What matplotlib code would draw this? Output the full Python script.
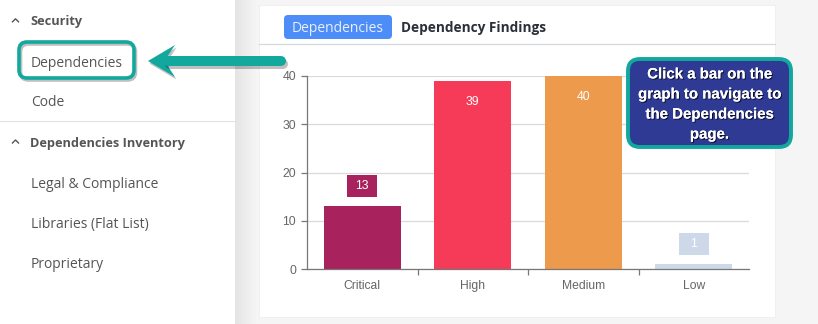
import matplotlib.pyplot as plt
import matplotlib.patches as patches
import matplotlib.patheffects as pe
import numpy as np

# datos de la grafica
categorias = ['Critical', 'High', 'Medium', 'Low']
valores = [13, 39, 40, 1]
colores = ['#A8235E', '#F53B57', '#EE9A4D', '#CDD9E8']
yticks = [0, 10, 20, 30, 40]

# menu lateral
menu_titulos = ['Security', 'Dependencies Inventory']
menu_items = ['Dependencies', 'Code', 'Legal & Compliance', 'Libraries (Flat List)', 'Proprietary']
aviso = 'Click a bar on the\ngraph to navigate to\nthe Dependencies\npage.'

W, H = 818, 324
teal = '#12A89D'
ui_font = 'Open Sans'
fig = plt.figure(figsize=(W / 100, H / 100), dpi=100, facecolor='#F5F5F6')

# ____ fondo en coordenadas de pixel
bg = fig.add_axes([0, 0, 1, 1], zorder=0)
bg.axis('off')
bg.add_patch(patches.Rectangle((0, 0), 235, H, facecolor='white', edgecolor='none'))
grad = np.linspace(0, 1, 50).reshape(1, -1)
bg.imshow(grad, extent=(235, 256, H, 0), cmap=plt.matplotlib.colors.LinearSegmentedColormap.from_list(
    'sombra', ['#E4E4E5', '#F5F5F6']), aspect='auto', zorder=1)
bg.set_xlim(0, W)
bg.set_ylim(H, 0)
bg.plot([0, 235], [121, 121], color='#E2E2E2', lw=0.8)
# tarjeta
bg.add_patch(patches.Rectangle((259, 5), 516, 312, facecolor='white', edgecolor='#ECECEC', lw=0.5, zorder=2))
bg.plot([259, 775], [44, 44], color='#D5D8DC', lw=0.9, zorder=3)
bg.add_patch(patches.FancyBboxPatch((286, 17), 104, 20, boxstyle='round,pad=2,rounding_size=4',
                                    facecolor='#4D8DF7', edgecolor='none', zorder=3))
bg.text(338, 32, 'Dependencies', ha='center', va='baseline', color='#E8F0FF',
        fontsize=10, family=ui_font, zorder=4)
bg.text(401, 32, 'Dependency Findings', ha='left', va='baseline', color='#2B2F3A',
        fontsize=9.8, family=ui_font, fontweight='bold', zorder=4)

# menu
for yb, t in zip([25.3, 146.5], menu_titulos):
    bg.text(30, yb, t, ha='left', va='baseline', color='#555555', fontsize=9.2,
            family=ui_font, fontweight='bold')
    yc = yb - 5
    bg.plot([12.5, 15.5, 18.5], [yc + 1.5, yc - 1.5, yc + 1.5], color='#555555', lw=1)
for yb, t in zip([67, 106, 188, 228, 268], menu_items):
    bg.text(31, yb, t, ha='left', va='baseline', color='#555555', fontsize=10, family=ui_font)

# ____ grafica de barras
ax = fig.add_axes([307 / W, 1 - 269.3 / H, (749 - 307) / W, (269.3 - 76) / H], zorder=1)
ax.set_facecolor('none')
x = np.arange(len(categorias))
ax.bar(x, valores, width=0.7, color=colores, zorder=2)
ax.set_xlim(-0.5, len(categorias) - 0.5)
ax.set_ylim(0, 40)
ax.set_yticks(yticks)
ax.set_xticks(x)
ax.set_xticklabels(categorias)
ax.set_xticks(x[:-1] + 0.5, minor=True)
ax.tick_params(axis='x', which='major', length=0, pad=8, labelsize=8.7, labelcolor='#666666')
ax.tick_params(axis='x', which='minor', length=4.3, width=0.9, color='#777777')
ax.tick_params(axis='y', length=4.3, width=0.9, color='#777777', pad=3.5, labelsize=8.7, labelcolor='#666666')
for lbl in ax.get_xticklabels() + ax.get_yticklabels():
    lbl.set_family('Liberation Sans')
ax.grid(axis='y', color='#D9D9D9', lw=0.9, zorder=0)
for s in ['top', 'right']:
    ax.spines[s].set_visible(False)
for s in ['left', 'bottom']:
    ax.spines[s].set_color('#777777')
    ax.spines[s].set_linewidth(0.9)

# etiquetas de valor (caja fuera si la barra es chica)
px_x = (749 - 307) / len(categorias)   # pixeles por categoria
px_y = (269.3 - 76) / 40               # pixeles por unidad
for xi, v, c in zip(x, valores, colores):
    if v < 20:
        yc = v + 20 / px_y
        ax.add_patch(patches.Rectangle((xi - 15 / px_x, yc - 11 / px_y), 30 / px_x, 22 / px_y,
                                       facecolor=c, edgecolor='none', zorder=3))
        ax.text(xi, yc, str(v), ha='center', va='center', color='white', fontsize=8.7,
                family='Liberation Sans', zorder=4)
    else:
        ax.annotate(str(v), (xi, v), xytext=(0, -15.1), textcoords='offset points',
                    ha='center', va='center', color='white', fontsize=8.7, family='Liberation Sans', zorder=3)

# ____ flecha y aviso encima
ov = fig.add_axes([0, 0, 1, 1], zorder=2)
ov.set_xlim(0, W)
ov.set_ylim(H, 0)
ov.axis('off')
ov.patch.set_alpha(0)

# recuadro en Dependencies
for dx, dy, col, a in [(1.5, 2, '#000000', 0.25), (0, 0, teal, 1)]:
    ov.add_patch(patches.FancyBboxPatch((19 + dx, 42 + dy), 115, 36, boxstyle='round,pad=0,rounding_size=8',
                                        facecolor='none', edgecolor=col, lw=2.6, alpha=a))
# flecha
for dx, dy, col, a in [(1.5, 2.5, '#000000', 0.25), (0, 0, teal, 1)]:
    ov.plot([168 + dx, 281 + dx], [61 + dy, 61 + dy], color=col, lw=7.2, solid_capstyle='round', alpha=a)
    ov.add_patch(patches.Polygon([(148 + dx, 61 + dy), (175 + dx, 45 + dy), (167 + dx, 57 + dy),
                                  (170 + dx, 61 + dy), (167 + dx, 65 + dy), (175 + dx, 77 + dy)],
                                 closed=True, facecolor=col, edgecolor='none', alpha=a))

# globo de aviso
ov.add_patch(patches.FancyBboxPatch((632, 63), 157, 84, boxstyle='round,pad=0,rounding_size=12',
                                    facecolor='#000000', edgecolor='none', alpha=0.3))
ov.add_patch(patches.FancyBboxPatch((628, 59), 163, 88, boxstyle='round,pad=0,rounding_size=12',
                                    facecolor='#2F3A95', edgecolor=teal, lw=2.8))
ov.text(709.5, 104.5, aviso, ha='center', va='center', color='white', fontsize=10.8,
        family='Liberation Sans', fontweight='bold', linespacing=1.55,
        path_effects=[pe.withSimplePatchShadow(offset=(0.8, -0.8), shadow_rgbFace='black', alpha=0.7), pe.Normal()])

fig.savefig('out.png', dpi=100, facecolor=fig.get_facecolor())
